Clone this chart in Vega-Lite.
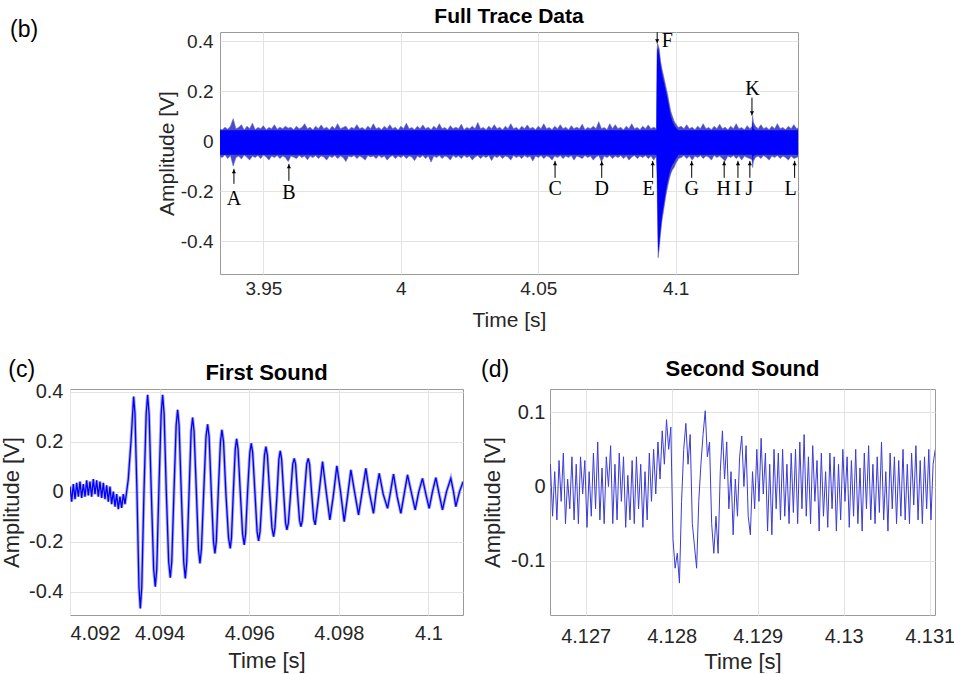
{
"$schema": "https://vega.github.io/schema/vega-lite/v6.json",
"background": "white",
"padding": {"left": 0, "top": 5, "right": 0, "bottom": 0},
"autosize": {"type": "pad"},
"config": {
 "font": "Liberation Sans",
 "view": {"stroke": "#9a9a9a", "strokeWidth": 1},
 "axis": {"gridColor": "#e3e3e3", "gridWidth": 1, "domain": false, "ticks": false, "labelColor": "#262626", "titleColor": "#262626", "titleFontWeight": "normal", "labelFont": "Liberation Sans", "titleFont": "Liberation Sans"},
 "title": {"font": "Liberation Sans", "fontWeight": "bold", "color": "#000000", "anchor": "middle", "frame": "group"},
 "locale": {"number": {"decimal": ".", "thousands": ",", "grouping": [3], "currency": ["$", ""], "minus": "-"}}
},
"datasets": {
 "trace": [
{"t":3.934,"hi":0.05,"lo":-0.06},{"t":3.935,"hi":0.045,"lo":-0.066},{"t":3.936,"hi":0.056,"lo":-0.055},{"t":3.937,"hi":0.048,"lo":-0.07},{"t":3.938,"hi":0.06,"lo":-0.058},{"t":3.939,"hi":0.09,"lo":-0.1},{"t":3.94,"hi":0.05,"lo":-0.066},{"t":3.941,"hi":0.055,"lo":-0.06},{"t":3.942,"hi":0.066,"lo":-0.072},{"t":3.943,"hi":0.045,"lo":-0.056},{"t":3.944,"hi":0.06,"lo":-0.065},{"t":3.945,"hi":0.05,"lo":-0.076},{"t":3.946,"hi":0.072,"lo":-0.06},{"t":3.947,"hi":0.046,"lo":-0.066},{"t":3.948,"hi":0.055,"lo":-0.058},{"t":3.949,"hi":0.05,"lo":-0.07},{"t":3.95,"hi":0.062,"lo":-0.056},{"t":3.951,"hi":0.046,"lo":-0.064},{"t":3.952,"hi":0.055,"lo":-0.076},{"t":3.953,"hi":0.05,"lo":-0.06},{"t":3.954,"hi":0.066,"lo":-0.066},{"t":3.955,"hi":0.048,"lo":-0.058},{"t":3.956,"hi":0.056,"lo":-0.07},{"t":3.957,"hi":0.05,"lo":-0.06},{"t":3.958,"hi":0.06,"lo":-0.066},{"t":3.959,"hi":0.052,"lo":-0.082},{"t":3.96,"hi":0.056,"lo":-0.06},{"t":3.961,"hi":0.046,"lo":-0.064},{"t":3.962,"hi":0.06,"lo":-0.07},{"t":3.963,"hi":0.05,"lo":-0.058},{"t":3.964,"hi":0.055,"lo":-0.066},{"t":3.965,"hi":0.07,"lo":-0.06},{"t":3.966,"hi":0.05,"lo":-0.075},{"t":3.967,"hi":0.056,"lo":-0.06},{"t":3.968,"hi":0.045,"lo":-0.066},{"t":3.969,"hi":0.06,"lo":-0.058},{"t":3.97,"hi":0.05,"lo":-0.07},{"t":3.971,"hi":0.065,"lo":-0.06},{"t":3.972,"hi":0.05,"lo":-0.064},{"t":3.973,"hi":0.056,"lo":-0.076},{"t":3.974,"hi":0.046,"lo":-0.06},{"t":3.975,"hi":0.06,"lo":-0.066},{"t":3.976,"hi":0.05,"lo":-0.058},{"t":3.977,"hi":0.07,"lo":-0.07},{"t":3.978,"hi":0.05,"lo":-0.06},{"t":3.979,"hi":0.055,"lo":-0.066},{"t":3.98,"hi":0.06,"lo":-0.082},{"t":3.981,"hi":0.045,"lo":-0.06},{"t":3.982,"hi":0.056,"lo":-0.064},{"t":3.983,"hi":0.05,"lo":-0.058},{"t":3.984,"hi":0.066,"lo":-0.07},{"t":3.985,"hi":0.05,"lo":-0.06},{"t":3.986,"hi":0.055,"lo":-0.066},{"t":3.987,"hi":0.046,"lo":-0.076},{"t":3.988,"hi":0.06,"lo":-0.058},{"t":3.989,"hi":0.05,"lo":-0.064},{"t":3.99,"hi":0.07,"lo":-0.06},{"t":3.991,"hi":0.05,"lo":-0.07},{"t":3.992,"hi":0.055,"lo":-0.058},{"t":3.993,"hi":0.046,"lo":-0.066},{"t":3.994,"hi":0.06,"lo":-0.06},{"t":3.995,"hi":0.05,"lo":-0.076},{"t":3.996,"hi":0.066,"lo":-0.064},{"t":3.997,"hi":0.05,"lo":-0.058},{"t":3.998,"hi":0.056,"lo":-0.07},{"t":3.999,"hi":0.045,"lo":-0.06},
{"t":4.0,"hi":0.06,"lo":-0.066},{"t":4.001,"hi":0.05,"lo":-0.058},{"t":4.002,"hi":0.072,"lo":-0.07},{"t":4.003,"hi":0.05,"lo":-0.06},{"t":4.004,"hi":0.055,"lo":-0.064},{"t":4.005,"hi":0.046,"lo":-0.078},{"t":4.006,"hi":0.06,"lo":-0.06},{"t":4.007,"hi":0.05,"lo":-0.066},{"t":4.008,"hi":0.065,"lo":-0.058},{"t":4.009,"hi":0.05,"lo":-0.07},{"t":4.01,"hi":0.056,"lo":-0.06},{"t":4.011,"hi":0.046,"lo":-0.084},{"t":4.012,"hi":0.06,"lo":-0.06},{"t":4.013,"hi":0.05,"lo":-0.066},{"t":4.014,"hi":0.07,"lo":-0.058},{"t":4.015,"hi":0.05,"lo":-0.07},{"t":4.016,"hi":0.055,"lo":-0.06},{"t":4.017,"hi":0.046,"lo":-0.064},{"t":4.018,"hi":0.062,"lo":-0.076},{"t":4.019,"hi":0.05,"lo":-0.058},{"t":4.02,"hi":0.056,"lo":-0.066},{"t":4.021,"hi":0.05,"lo":-0.06},{"t":4.022,"hi":0.068,"lo":-0.07},{"t":4.023,"hi":0.046,"lo":-0.058},{"t":4.024,"hi":0.055,"lo":-0.066},{"t":4.025,"hi":0.05,"lo":-0.06},{"t":4.026,"hi":0.06,"lo":-0.076},{"t":4.027,"hi":0.05,"lo":-0.064},{"t":4.028,"hi":0.075,"lo":-0.058},{"t":4.029,"hi":0.05,"lo":-0.07},{"t":4.03,"hi":0.055,"lo":-0.06},{"t":4.031,"hi":0.046,"lo":-0.066},{"t":4.032,"hi":0.06,"lo":-0.058},{"t":4.033,"hi":0.05,"lo":-0.078},{"t":4.034,"hi":0.066,"lo":-0.06},{"t":4.035,"hi":0.05,"lo":-0.066},{"t":4.036,"hi":0.056,"lo":-0.058},{"t":4.037,"hi":0.045,"lo":-0.07},{"t":4.038,"hi":0.06,"lo":-0.06},{"t":4.039,"hi":0.05,"lo":-0.064},{"t":4.04,"hi":0.07,"lo":-0.076},{"t":4.041,"hi":0.05,"lo":-0.058},{"t":4.042,"hi":0.055,"lo":-0.066},{"t":4.043,"hi":0.046,"lo":-0.06},{"t":4.044,"hi":0.06,"lo":-0.07},{"t":4.045,"hi":0.05,"lo":-0.058},{"t":4.046,"hi":0.065,"lo":-0.066},{"t":4.047,"hi":0.05,"lo":-0.06},{"t":4.048,"hi":0.056,"lo":-0.08},{"t":4.049,"hi":0.046,"lo":-0.06},{"t":4.05,"hi":0.06,"lo":-0.066},{"t":4.051,"hi":0.05,"lo":-0.058},{"t":4.052,"hi":0.07,"lo":-0.07},{"t":4.053,"hi":0.05,"lo":-0.06},{"t":4.054,"hi":0.055,"lo":-0.064},{"t":4.055,"hi":0.046,"lo":-0.076},{"t":4.056,"hi":0.06,"lo":-0.06},{"t":4.057,"hi":0.05,"lo":-0.066},{"t":4.058,"hi":0.066,"lo":-0.058},{"t":4.059,"hi":0.05,"lo":-0.07},{"t":4.06,"hi":0.056,"lo":-0.06},{"t":4.061,"hi":0.046,"lo":-0.066},{"t":4.062,"hi":0.062,"lo":-0.058},{"t":4.063,"hi":0.05,"lo":-0.076},{"t":4.064,"hi":0.056,"lo":-0.06},{"t":4.065,"hi":0.05,"lo":-0.064},{"t":4.066,"hi":0.068,"lo":-0.07},{"t":4.067,"hi":0.046,"lo":-0.058},{"t":4.068,"hi":0.055,"lo":-0.066},{"t":4.069,"hi":0.05,"lo":-0.06},{"t":4.07,"hi":0.06,"lo":-0.076},{"t":4.071,"hi":0.05,"lo":-0.064},{"t":4.072,"hi":0.078,"lo":-0.058},{"t":4.073,"hi":0.05,"lo":-0.082},{"t":4.074,"hi":0.055,"lo":-0.06},{"t":4.075,"hi":0.046,"lo":-0.066},{"t":4.076,"hi":0.07,"lo":-0.058},{"t":4.077,"hi":0.05,"lo":-0.07},{"t":4.078,"hi":0.066,"lo":-0.06},{"t":4.079,"hi":0.05,"lo":-0.066},{"t":4.08,"hi":0.056,"lo":-0.058},{"t":4.081,"hi":0.045,"lo":-0.07},{"t":4.082,"hi":0.06,"lo":-0.06},{"t":4.083,"hi":0.05,"lo":-0.076},{"t":4.084,"hi":0.07,"lo":-0.064},{"t":4.085,"hi":0.05,"lo":-0.058},{"t":4.086,"hi":0.055,"lo":-0.07},{"t":4.087,"hi":0.046,"lo":-0.06},{"t":4.088,"hi":0.06,"lo":-0.066},{"t":4.089,"hi":0.05,"lo":-0.058},{"t":4.09,"hi":0.065,"lo":-0.07},{"t":4.091,"hi":0.05,"lo":-0.06},{"t":4.092,"hi":0.056,"lo":-0.076},{"t":4.093,"hi":0.05,"lo":-0.06},
{"t":4.0932,"hi":0.36,"lo":-0.15},{"t":4.0934,"hi":0.39,"lo":-0.3},{"t":4.0936,"hi":0.385,"lo":-0.467},{"t":4.094,"hi":0.37,"lo":-0.43},{"t":4.0945,"hi":0.32,"lo":-0.37},{"t":4.095,"hi":0.29,"lo":-0.32},{"t":4.0957,"hi":0.255,"lo":-0.27},{"t":4.0964,"hi":0.22,"lo":-0.22},{"t":4.097,"hi":0.19,"lo":-0.186},{"t":4.0976,"hi":0.155,"lo":-0.155},{"t":4.0982,"hi":0.12,"lo":-0.131},{"t":4.0988,"hi":0.1,"lo":-0.115},{"t":4.0994,"hi":0.081,"lo":-0.106},{"t":4.1,"hi":0.07,"lo":-0.09},{"t":4.1006,"hi":0.06,"lo":-0.079},
{"t":4.101,"hi":0.055,"lo":-0.07},{"t":4.102,"hi":0.06,"lo":-0.066},{"t":4.103,"hi":0.05,"lo":-0.058},{"t":4.104,"hi":0.066,"lo":-0.07},{"t":4.105,"hi":0.05,"lo":-0.06},{"t":4.106,"hi":0.056,"lo":-0.076},{"t":4.107,"hi":0.046,"lo":-0.06},{"t":4.108,"hi":0.06,"lo":-0.066},{"t":4.109,"hi":0.05,"lo":-0.058},{"t":4.11,"hi":0.07,"lo":-0.07},{"t":4.111,"hi":0.05,"lo":-0.06},{"t":4.112,"hi":0.055,"lo":-0.064},{"t":4.113,"hi":0.046,"lo":-0.076},{"t":4.114,"hi":0.06,"lo":-0.058},{"t":4.115,"hi":0.05,"lo":-0.066},{"t":4.116,"hi":0.068,"lo":-0.06},{"t":4.117,"hi":0.05,"lo":-0.07},{"t":4.118,"hi":0.056,"lo":-0.08},{"t":4.119,"hi":0.046,"lo":-0.06},{"t":4.12,"hi":0.06,"lo":-0.066},{"t":4.121,"hi":0.05,"lo":-0.058},{"t":4.122,"hi":0.07,"lo":-0.07},{"t":4.123,"hi":0.05,"lo":-0.06},{"t":4.124,"hi":0.055,"lo":-0.076},{"t":4.125,"hi":0.046,"lo":-0.06},{"t":4.126,"hi":0.062,"lo":-0.066},{"t":4.127,"hi":0.05,"lo":-0.07},{"t":4.1278,"hi":0.06,"lo":-0.075},{"t":4.128,"hi":0.101,"lo":-0.106},{"t":4.1283,"hi":0.075,"lo":-0.08},{"t":4.129,"hi":0.06,"lo":-0.066},{"t":4.13,"hi":0.05,"lo":-0.06},{"t":4.131,"hi":0.066,"lo":-0.07},{"t":4.132,"hi":0.05,"lo":-0.058},{"t":4.133,"hi":0.056,"lo":-0.066},{"t":4.134,"hi":0.046,"lo":-0.076},{"t":4.135,"hi":0.06,"lo":-0.06},{"t":4.136,"hi":0.05,"lo":-0.066},{"t":4.137,"hi":0.07,"lo":-0.058},{"t":4.138,"hi":0.05,"lo":-0.07},{"t":4.139,"hi":0.055,"lo":-0.06},{"t":4.14,"hi":0.046,"lo":-0.066},{"t":4.141,"hi":0.06,"lo":-0.076},{"t":4.142,"hi":0.05,"lo":-0.06},{"t":4.143,"hi":0.066,"lo":-0.07},{"t":4.144,"hi":0.05,"lo":-0.066},{"t":4.145,"hi":0.056,"lo":-0.06}
 ],
 "core": [
{"t":3.934,"chi":0.044,"clo":-0.055},{"t":4.093,"chi":0.044,"clo":-0.055},{"t":4.0932,"chi":0.33,"clo":-0.13},{"t":4.0934,"chi":0.37,"clo":-0.28},{"t":4.0936,"chi":0.37,"clo":-0.45},{"t":4.094,"chi":0.35,"clo":-0.41},{"t":4.0945,"chi":0.3,"clo":-0.35},{"t":4.095,"chi":0.27,"clo":-0.3},{"t":4.0957,"chi":0.235,"clo":-0.25},{"t":4.0964,"chi":0.2,"clo":-0.2},{"t":4.097,"chi":0.17,"clo":-0.166},{"t":4.0976,"chi":0.135,"clo":-0.135},{"t":4.0982,"chi":0.1,"clo":-0.11},{"t":4.0988,"chi":0.08,"clo":-0.095},{"t":4.0994,"chi":0.065,"clo":-0.085},{"t":4.1,"chi":0.055,"clo":-0.072},{"t":4.1006,"chi":0.048,"clo":-0.062},{"t":4.101,"chi":0.044,"clo":-0.055},{"t":4.1278,"chi":0.044,"clo":-0.055},{"t":4.128,"chi":0.085,"clo":-0.09},{"t":4.1283,"chi":0.05,"clo":-0.06},{"t":4.129,"chi":0.044,"clo":-0.055},{"t":4.1445,"chi":0.044,"clo":-0.055}
 ],
 "ann": [
{"label":"A","t":3.93927,"tip":-0.111,"tail":-0.171,"head":-0.121,"dir":"up","tx":3.93927,"ty":-0.2315},
{"label":"B","t":3.95927,"tip":-0.091,"tail":-0.159,"head":-0.101,"dir":"up","tx":3.95927,"ty":-0.207},
{"label":"C","t":4.05611,"tip":-0.079,"tail":-0.147,"head":-0.089,"dir":"up","tx":4.05611,"ty":-0.191},
{"label":"D","t":4.07309,"tip":-0.079,"tail":-0.147,"head":-0.089,"dir":"up","tx":4.07309,"ty":-0.191},
{"label":"E","t":4.09164,"tip":-0.079,"tail":-0.147,"head":-0.089,"dir":"up","tx":4.09018,"ty":-0.191},
{"label":"G","t":4.10582,"tip":-0.079,"tail":-0.147,"head":-0.089,"dir":"up","tx":4.10582,"ty":-0.191},
{"label":"H","t":4.11764,"tip":-0.079,"tail":-0.147,"head":-0.089,"dir":"up","tx":4.11745,"ty":-0.191},
{"label":"I","t":4.12265,"tip":-0.079,"tail":-0.147,"head":-0.089,"dir":"up","tx":4.12255,"ty":-0.191},
{"label":"J","t":4.12698,"tip":-0.079,"tail":-0.147,"head":-0.089,"dir":"up","tx":4.1268,"ty":-0.191},
{"label":"L","t":4.14327,"tip":-0.079,"tail":-0.147,"head":-0.089,"dir":"up","tx":4.14182,"ty":-0.191},
{"label":"F","t":4.09327,"tip":0.391,"tail":0.436,"head":0.401,"dir":"down","tx":4.09698,"ty":0.4},
{"label":"K","t":4.12775,"tip":0.102,"tail":0.174,"head":0.112,"dir":"down","tx":4.12789,"ty":0.209}
 ],
 "first": [
{"t":4.092,"v":0.02},{"t":4.092037,"v":-0.04},{"t":4.092074,"v":0.03},{"t":4.092112,"v":-0.03},{"t":4.092149,"v":0.035},{"t":4.092186,"v":-0.02},{"t":4.092223,"v":0.04},{"t":4.09226,"v":-0.025},{"t":4.092297,"v":0.03},{"t":4.092335,"v":-0.02},{"t":4.092372,"v":0.045},{"t":4.092409,"v":-0.015},{"t":4.092446,"v":0.04},{"t":4.092483,"v":-0.02},{"t":4.09252,"v":0.05},{"t":4.092558,"v":-0.01},{"t":4.092595,"v":0.045},{"t":4.092632,"v":-0.02},{"t":4.092669,"v":0.04},{"t":4.092706,"v":-0.025},{"t":4.092744,"v":0.035},{"t":4.092781,"v":-0.03},{"t":4.092818,"v":0.025},{"t":4.092855,"v":-0.04},{"t":4.092892,"v":0.02},{"t":4.092929,"v":-0.05},{"t":4.092967,"v":0.0},{"t":4.093004,"v":-0.06},{"t":4.093041,"v":-0.01},{"t":4.093078,"v":-0.07},{"t":4.093115,"v":-0.02},{"t":4.093152,"v":-0.065},{"t":4.09319,"v":-0.01},{"t":4.093227,"v":-0.05},{"t":4.093264,"v":0.0},{"t":4.093301,"v":0.05},{"t":4.093361,"v":0.2},{"t":4.09342,"v":0.38},
{"t":4.09345,"v":0.31},{"t":4.093494,"v":0.0},{"t":4.093539,"v":-0.38},{"t":4.093569,"v":-0.467},{"t":4.093602,"v":-0.38},{"t":4.093651,"v":0.0},{"t":4.0937,"v":0.31},{"t":4.093732,"v":0.387},{"t":4.093765,"v":0.31},{"t":4.093814,"v":0.0},{"t":4.093867,"v":-0.31},{"t":4.093903,"v":-0.38},{"t":4.093936,"v":-0.31},{"t":4.093985,"v":0.02},{"t":4.094034,"v":0.31},{"t":4.094067,"v":0.387},{"t":4.0941,"v":0.31},{"t":4.094149,"v":0.0},{"t":4.094202,"v":-0.28},{"t":4.094238,"v":-0.344},{"t":4.094271,"v":-0.28},{"t":4.09432,"v":0.0},{"t":4.094369,"v":0.265},{"t":4.094402,"v":0.327},{"t":4.094434,"v":0.265},{"t":4.094483,"v":0.0},{"t":4.094537,"v":-0.28},{"t":4.094573,"v":-0.347},{"t":4.094605,"v":-0.28},{"t":4.094654,"v":-0.02},{"t":4.094703,"v":0.24},{"t":4.094736,"v":0.296},{"t":4.094769,"v":0.24},{"t":4.094818,"v":0.01},{"t":4.094867,"v":-0.23},{"t":4.0949,"v":-0.287},{"t":4.094933,"v":-0.23},{"t":4.094982,"v":-0.01},{"t":4.095035,"v":0.22},{"t":4.095071,"v":0.269},{"t":4.095104,"v":0.22},{"t":4.095153,"v":0.0},{"t":4.095202,"v":-0.2},{"t":4.095234,"v":-0.247},{"t":4.095264,"v":-0.2},{"t":4.095309,"v":0.0},{"t":4.095358,"v":0.2},{"t":4.09539,"v":0.247},{"t":4.095426,"v":0.2},{"t":4.09548,"v":-0.01},{"t":4.095538,"v":-0.185},{"t":4.095576,"v":-0.227},{"t":4.095603,"v":-0.185},{"t":4.095643,"v":-0.01},{"t":4.095688,"v":0.17},{"t":4.095718,"v":0.211},{"t":4.09575,"v":0.17},{"t":4.095799,"v":0.0},{"t":4.095852,"v":-0.17},{"t":4.095888,"v":-0.213},{"t":4.095918,"v":-0.17},{"t":4.095963,"v":0.0},{"t":4.096012,"v":0.155},{"t":4.096045,"v":0.193},{"t":4.096077,"v":0.155},{"t":4.096126,"v":0.0},{"t":4.096175,"v":-0.16},{"t":4.096208,"v":-0.197},{"t":4.096241,"v":-0.16},{"t":4.09629,"v":-0.01},{"t":4.096339,"v":0.145},{"t":4.096372,"v":0.18},{"t":4.096405,"v":0.145},{"t":4.096454,"v":0.0},{"t":4.096507,"v":-0.145},{"t":4.096543,"v":-0.18},{"t":4.096573,"v":-0.145},{"t":4.096617,"v":-0.02},{"t":4.096662,"v":0.13},{"t":4.096692,"v":0.163},{"t":4.096722,"v":0.13},{"t":4.096766,"v":0.0},{"t":4.09681,"v":-0.125},{"t":4.09684,"v":-0.153},{"t":4.096873,"v":-0.125},{"t":4.096922,"v":-0.01},{"t":4.096971,"v":0.11},{"t":4.097004,"v":0.133},{"t":4.097034,"v":0.11},{"t":4.097078,"v":-0.01},{"t":4.097123,"v":-0.115},{"t":4.097153,"v":-0.14},{"t":4.097185,"v":-0.115},{"t":4.097234,"v":0.0},{"t":4.097283,"v":0.11},{"t":4.097316,"v":0.133},{"t":4.097346,"v":0.11},{"t":4.09739,"v":0.0},{"t":4.097439,"v":-0.11},{"t":4.097472,"v":-0.133},
{"t":4.097554,"v":-0.01},{"t":4.097636,"v":0.12},{"t":4.097717,"v":0.0},{"t":4.097799,"v":-0.113},{"t":4.097874,"v":-0.02},{"t":4.097955,"v":0.103},{"t":4.098037,"v":0.0},{"t":4.098119,"v":-0.12},{"t":4.098193,"v":-0.02},{"t":4.098268,"v":0.087},{"t":4.098349,"v":0.0},{"t":4.098439,"v":-0.093},{"t":4.098521,"v":0.0},{"t":4.098602,"v":0.093},{"t":4.098677,"v":0.0},{"t":4.098773,"v":-0.087},{"t":4.098833,"v":0.0},{"t":4.0989,"v":0.073},{"t":4.098989,"v":-0.01},{"t":4.099086,"v":-0.067},{"t":4.099153,"v":0.0},{"t":4.099219,"v":0.07},{"t":4.099301,"v":-0.02},{"t":4.099383,"v":-0.087},{"t":4.099457,"v":-0.01},{"t":4.099532,"v":0.067},{"t":4.099613,"v":0.0},{"t":4.099703,"v":-0.073},{"t":4.099784,"v":0.0},{"t":4.099866,"v":0.053},{"t":4.099941,"v":-0.01},{"t":4.100015,"v":-0.067},{"t":4.100089,"v":0.0},{"t":4.100164,"v":0.056},{"t":4.100238,"v":-0.01},{"t":4.100312,"v":-0.073},{"t":4.100402,"v":0.0},{"t":4.100498,"v":0.053},{"t":4.100558,"v":0.0},{"t":4.10061,"v":-0.06},{"t":4.100692,"v":0.0},{"t":4.100773,"v":0.04}
 ],
 "second": [
{"t":4.12659,"v":0.03},{"t":4.126615,"v":-0.04},{"t":4.12664,"v":0.02},{"t":4.126665,"v":-0.045},{"t":4.12669,"v":0.035},{"t":4.126715,"v":-0.02},{"t":4.12674,"v":0.045},{"t":4.126765,"v":-0.05},{"t":4.12679,"v":0.01},{"t":4.126815,"v":-0.03},{"t":4.12684,"v":0.04},{"t":4.126865,"v":-0.045},{"t":4.12689,"v":0.03},{"t":4.126915,"v":-0.05},{"t":4.12694,"v":0.04},{"t":4.126965,"v":-0.01},{"t":4.12699,"v":0.035},{"t":4.127015,"v":-0.055},{"t":4.12704,"v":0.02},{"t":4.127065,"v":-0.04},{"t":4.12709,"v":0.045},{"t":4.127115,"v":-0.03},{"t":4.12714,"v":0.06},{"t":4.127165,"v":-0.045},{"t":4.12719,"v":0.025},{"t":4.127215,"v":-0.05},{"t":4.12724,"v":0.04},{"t":4.127265,"v":0.0},{"t":4.12729,"v":0.055},{"t":4.127315,"v":-0.05},{"t":4.12734,"v":0.03},{"t":4.127365,"v":-0.045},{"t":4.12739,"v":0.045},{"t":4.127415,"v":-0.02},{"t":4.12744,"v":0.04},{"t":4.127465,"v":-0.055},{"t":4.12749,"v":0.015},{"t":4.127515,"v":-0.045},{"t":4.12754,"v":0.035},{"t":4.127565,"v":-0.05},{"t":4.12759,"v":0.04},{"t":4.127615,"v":-0.03},{"t":4.12764,"v":0.03},{"t":4.127665,"v":-0.055},{"t":4.12769,"v":0.02},{"t":4.127715,"v":-0.045},{"t":4.12774,"v":0.045},{"t":4.127765,"v":-0.02},{"t":4.12779,"v":0.05},{"t":4.127815,"v":-0.01},{"t":4.12784,"v":0.06},{"t":4.127865,"v":0.01},{"t":4.12789,"v":0.075},{"t":4.127915,"v":0.03},{"t":4.12794,"v":0.09},{"t":4.127965,"v":0.05},{"t":4.12799,"v":0.08},{"t":4.128015,"v":-0.07},{"t":4.12804,"v":-0.11},{"t":4.128065,"v":-0.09},{"t":4.12809,"v":-0.13},{"t":4.128115,"v":-0.02},{"t":4.12814,"v":0.05},{"t":4.128165,"v":0.085},{"t":4.12819,"v":0.03},{"t":4.128215,"v":0.07},{"t":4.12824,"v":-0.05},{"t":4.128265,"v":-0.08},{"t":4.12829,"v":-0.11},{"t":4.128315,"v":-0.02},{"t":4.12834,"v":0.03},{"t":4.128365,"v":0.07},{"t":4.12839,"v":0.102},{"t":4.128415,"v":0.04},{"t":4.12844,"v":0.06},{"t":4.128465,"v":-0.05},{"t":4.12849,"v":-0.09},{"t":4.128515,"v":-0.04},{"t":4.12854,"v":-0.09},{"t":4.128565,"v":0.02},{"t":4.12859,"v":0.075},{"t":4.128615,"v":0.01},{"t":4.12864,"v":0.06},{"t":4.128665,"v":-0.03},{"t":4.12869,"v":0.02},{"t":4.128715,"v":-0.065},{"t":4.12874,"v":0.01},{"t":4.128765,"v":-0.04},{"t":4.12879,"v":0.04},{"t":4.128815,"v":0.068},{"t":4.12884,"v":0.0},{"t":4.128865,"v":0.055},{"t":4.12889,"v":-0.04},{"t":4.128915,"v":-0.065},{"t":4.12894,"v":0.02},{"t":4.128965,"v":-0.03},{"t":4.12899,"v":0.05},{"t":4.129015,"v":-0.02},{"t":4.12904,"v":0.065},{"t":4.129065,"v":-0.01},{"t":4.12909,"v":0.045},{"t":4.129115,"v":-0.06},{"t":4.12914,"v":0.03},{"t":4.129165,"v":-0.065},{"t":4.12919,"v":0.05},{"t":4.129215,"v":-0.03},{"t":4.12924,"v":0.045},{"t":4.129265,"v":-0.045},{"t":4.12929,"v":0.05},{"t":4.129315,"v":-0.04},{"t":4.12934,"v":0.03},{"t":4.129365,"v":-0.05},{"t":4.12939,"v":0.045},{"t":4.129415,"v":-0.035},{"t":4.12944,"v":0.05},{"t":4.129465,"v":-0.05},{"t":4.12949,"v":0.06},{"t":4.129515,"v":-0.03},{"t":4.12954,"v":0.07},{"t":4.129565,"v":-0.04},{"t":4.12959,"v":0.04},{"t":4.129615,"v":-0.05},{"t":4.12964,"v":0.055},{"t":4.129665,"v":-0.02},{"t":4.12969,"v":0.035},{"t":4.129715,"v":-0.06},{"t":4.12974,"v":0.045},{"t":4.129765,"v":-0.04},{"t":4.12979,"v":0.02},{"t":4.129815,"v":-0.055},{"t":4.12984,"v":0.045},{"t":4.129865,"v":-0.03},{"t":4.12989,"v":0.04},{"t":4.129915,"v":-0.06},{"t":4.12994,"v":0.03},{"t":4.129965,"v":-0.045},{"t":4.12999,"v":0.05},{"t":4.130015,"v":-0.02},{"t":4.13004,"v":0.04},{"t":4.130065,"v":-0.055},{"t":4.13009,"v":0.035},{"t":4.130115,"v":-0.04},{"t":4.13014,"v":0.05},{"t":4.130165,"v":-0.05},{"t":4.13019,"v":0.025},{"t":4.130215,"v":-0.06},{"t":4.13024,"v":0.045},{"t":4.130265,"v":-0.03},{"t":4.13029,"v":0.055},{"t":4.130315,"v":-0.045},{"t":4.13034,"v":0.03},{"t":4.130365,"v":-0.05},{"t":4.13039,"v":0.04},{"t":4.130415,"v":-0.035},{"t":4.13044,"v":0.06},{"t":4.130465,"v":-0.045},{"t":4.13049,"v":0.02},{"t":4.130515,"v":-0.06},{"t":4.13054,"v":0.045},{"t":4.130565,"v":-0.03},{"t":4.13059,"v":0.04},{"t":4.130615,"v":-0.05},{"t":4.13064,"v":0.035},{"t":4.130665,"v":-0.04},{"t":4.13069,"v":0.05},{"t":4.130715,"v":-0.045},{"t":4.13074,"v":0.03},{"t":4.130765,"v":-0.05},{"t":4.13079,"v":0.045},{"t":4.130815,"v":-0.025},{"t":4.13084,"v":0.055},{"t":4.130865,"v":-0.045},{"t":4.13089,"v":0.035},{"t":4.130915,"v":-0.05},{"t":4.13094,"v":0.04},{"t":4.130965,"v":-0.03},{"t":4.13099,"v":0.05},{"t":4.131015,"v":-0.045},{"t":4.13104,"v":0.03},{"t":4.131065,"v":0.05}
 ]
},
"vconcat": [
 {
  "hconcat": [
   {
    "width": 63, "height": 242,
    "view": {"stroke": null},
    "data": {"values": []},
    "mark": "point",
    "encoding": {}
   },
   {
    "width": 578, "height": 242,
    "title": {"text": "Full Trace Data", "fontSize": 21, "offset": -7.5},
    "layer": [
     {
      "data": {"name": "trace"},
      "mark": {"type": "area", "color": "#4a4ac4", "stroke": "#5656b4", "strokeWidth": 0.5, "clip": true},
      "encoding": {
       "x": {"field": "t", "type": "quantitative", "scale": {"domain": [3.9342, 4.1445], "nice": false, "zero": false},
             "axis": {"values": [3.95, 4, 4.05, 4.1], "format": "~g", "title": "Time [s]", "labelFontSize": 19, "titleFontSize": 21, "labelPadding": 5, "titlePadding": 11}},
       "y": {"field": "hi", "type": "quantitative", "scale": {"domain": [-0.532, 0.437], "nice": false, "zero": false},
             "axis": {"values": [-0.4, -0.2, 0, 0.2, 0.4], "format": "~g", "title": "Amplitude [V]", "labelFontSize": 19, "titleFontSize": 21, "labelPadding": 7, "titlePadding": 3}},
       "y2": {"field": "lo"}
      }
     },
     {
      "data": {"name": "core"},
      "mark": {"type": "area", "color": "#0000ff", "clip": true},
      "encoding": {
       "x": {"field": "t", "type": "quantitative"},
       "y": {"field": "chi", "type": "quantitative"},
       "y2": {"field": "clo"}
      }
     },
     {
      "data": {"name": "ann"},
      "mark": {"type": "rule", "color": "#000000", "strokeWidth": 1},
      "encoding": {
       "x": {"field": "t", "type": "quantitative"},
       "y": {"field": "tail", "type": "quantitative"},
       "y2": {"field": "tip"}
      }
     },
     {
      "data": {"name": "ann"},
      "mark": {"type": "point", "filled": true, "color": "#000000", "size": 18, "opacity": 1},
      "encoding": {
       "x": {"field": "t", "type": "quantitative"},
       "y": {"field": "head", "type": "quantitative"},
       "shape": {"field": "dir", "type": "nominal", "scale": {"domain": ["up", "down"], "range": ["triangle-up", "triangle-down"]}, "legend": null}
      }
     },
     {
      "data": {"name": "ann"},
      "mark": {"type": "text", "font": "Liberation Serif", "fontSize": 20, "color": "#000000", "baseline": "middle", "align": "center"},
      "encoding": {
       "x": {"field": "tx", "type": "quantitative"},
       "y": {"field": "ty", "type": "quantitative"},
       "text": {"field": "label"}
      }
     },
     {
      "data": {"values": [{"px": 3.8578, "py": 0.415, "txt": "(b)"}]},
      "mark": {"type": "text", "fontSize": 23, "color": "#000000", "baseline": "alphabetic", "align": "left"},
      "encoding": {
       "x": {"field": "px", "type": "quantitative"},
       "y": {"field": "py", "type": "quantitative"},
       "text": {"field": "txt"}
      }
     }
    ]
   }
  ],
  "spacing": 87,
  "bounds": "flush"
 },
 {
  "hconcat": [
   {
    "width": 393, "height": 226,
    "title": {"text": "First Sound", "fontSize": 22, "offset": -26},
    "layer": [
     {
      "data": {"name": "first"},
      "mark": {"type": "line", "color": "#8c8cd0", "strokeWidth": 3.2, "opacity": 0.7, "clip": true},
      "encoding": {
       "x": {"field": "t", "type": "quantitative", "scale": {"domain": [4.092, 4.10077], "nice": false, "zero": false},
             "axis": {"values": [4.092, 4.094, 4.096, 4.098, 4.1], "format": "~g", "title": "Time [s]", "labelFontSize": 20, "titleFontSize": 22, "labelPadding": 8.5, "titlePadding": 7}},
       "y": {"field": "v", "type": "quantitative", "scale": {"domain": [-0.493, 0.41], "nice": false, "zero": false},
             "axis": {"values": [-0.4, -0.2, 0, 0.2, 0.4], "format": "~g", "title": "Amplitude [V]", "labelFontSize": 20, "titleFontSize": 22, "labelPadding": 7, "titlePadding": 5}}
      }
     },
     {
      "data": {"name": "first"},
      "mark": {"type": "line", "color": "#0000ff", "strokeWidth": 1.3, "clip": true},
      "encoding": {
       "x": {"field": "t", "type": "quantitative"},
       "y": {"field": "v", "type": "quantitative"}
      }
     },
     {
      "data": {"values": [{"px": 4.090624, "py": 0.456, "txt": "(c)"}]},
      "mark": {"type": "text", "fontSize": 23, "color": "#000000", "baseline": "alphabetic", "align": "left"},
      "encoding": {
       "x": {"field": "px", "type": "quantitative"},
       "y": {"field": "py", "type": "quantitative"},
       "text": {"field": "txt"}
      }
     }
    ]
   },
   {
    "width": 385, "height": 226,
    "title": {"text": "Second Sound", "fontSize": 22, "offset": -22.5},
    "layer": [
     {
      "data": {"name": "second"},
      "mark": {"type": "line", "color": "#3b3bd6", "strokeWidth": 1, "clip": true},
      "encoding": {
       "x": {"field": "t", "type": "quantitative", "scale": {"domain": [4.126585, 4.131062], "nice": false, "zero": false},
             "axis": {"values": [4.127, 4.128, 4.129, 4.13, 4.131], "format": "~g", "title": "Time [s]", "labelFontSize": 20, "titleFontSize": 22, "labelPadding": 11, "titlePadding": 5}},
       "y": {"field": "v", "type": "quantitative", "scale": {"domain": [-0.173, 0.1313], "nice": false, "zero": false},
             "axis": {"values": [-0.1, 0, 0.1], "format": "~g", "title": "Amplitude [V]", "labelFontSize": 20, "titleFontSize": 22, "labelPadding": 5, "titlePadding": 6}}
      }
     },
     {
      "data": {"values": [{"px": 4.125783, "py": 0.148, "txt": "(d)"}]},
      "mark": {"type": "text", "fontSize": 23, "color": "#000000", "baseline": "alphabetic", "align": "left"},
      "encoding": {
       "x": {"field": "px", "type": "quantitative"},
       "y": {"field": "py", "type": "quantitative"},
       "text": {"field": "txt"}
      }
     }
    ]
   }
  ],
  "spacing": 87,
  "bounds": "flush"
 }
],
"spacing": 26,
"bounds": "full"
}
